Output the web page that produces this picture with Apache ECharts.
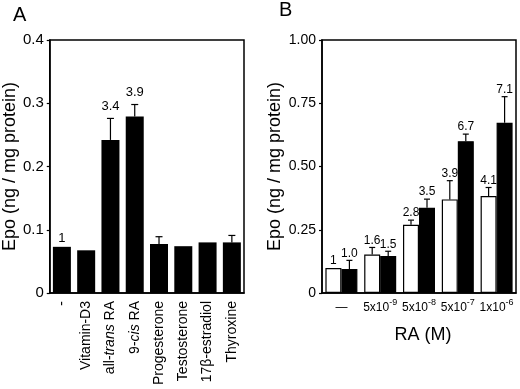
<!DOCTYPE html>
<html><head><meta charset="utf-8">
<script src="https://cdn.jsdelivr.net/npm/echarts@6/dist/echarts.min.js"></script>
<style>html,body{margin:0;padding:0;background:#fff}#c{width:520px;height:389px}</style>
</head><body><div id="c"></div>
<script>
// Panel A data
const catsA = ['-', 'Vitamin-D3', 'all-trans RA', '9-cis RA', 'Progesterone', 'Testosterone', '17β-estradiol', 'Thyroxine'];
const valsA = [0.073, 0.0675, 0.242, 0.279, 0.0775, 0.074, 0.080, 0.080];
const errA = [null, null, 0.276, 0.298, 0.089, null, null, 0.091];
const foldA = ['1', '', '3.4', '3.9', '', '', '', ''];
const ticksA = [0, 0.1, 0.2, 0.3, 0.4];

// Panel B data
const catsB = ['—', '5x10^-9', '5x10^-8', '5x10^-7', '1x10^-6'];
const openB = [0.099, 0.152, 0.270, 0.370, 0.383];
const openErrB = [null, 0.180, 0.288, 0.444, 0.417];
const openFoldB = ['1', '1.6', '2.8', '3.9', '4.1'];
const filledB = [0.095, 0.146, 0.337, 0.600, 0.673];
const filledErrB = [0.129, 0.165, 0.371, 0.628, 0.776];
const filledFoldB = ['1.0', '1.5', '3.5', '6.7', '7.1'];
const ticksB = [0, 0.25, 0.5, 0.75, 1.0];

const FONT = 'Liberation Sans, Arial, Helvetica, sans-serif';

function errRender(vals, errs, labels, offset, gapErr, gapNo, capW, fontSize) {
  return function (params, api) {
    const i = params.dataIndex;
    const base = api.coord([i, vals[i]]);
    const x = base[0] + offset;
    const children = [];
    let topY = base[1];
    let gap = gapNo;
    if (errs[i] != null) {
      const t = api.coord([i, errs[i]]);
      topY = t[1];
      gap = gapErr;
      children.push({type: 'line', shape: {x1: x, y1: base[1], x2: x, y2: topY}, style: {stroke: '#000', lineWidth: 1.2}});
      children.push({type: 'line', shape: {x1: x - capW / 2, y1: topY, x2: x + capW / 2, y2: topY}, style: {stroke: '#000', lineWidth: 1.2}});
    }
    if (labels[i]) {
      children.push({type: 'text', x: x, y: topY - gap, style: {text: labels[i], fill: '#000', font: fontSize + 'px ' + FONT, textAlign: 'center', textVerticalAlign: 'bottom'}});
    }
    return {type: 'group', children: children};
  };
}

const chart = echarts.init(document.getElementById('c'), null, {renderer: 'canvas'});
const axisLine = {show: true, lineStyle: {color: '#000', width: 1.5}};

chart.setOption({
  animation: false,
  backgroundColor: '#fff',
  textStyle: {fontFamily: FONT, color: '#000'},
  graphic: [
    {type: 'text', left: 13, top: 5, style: {text: 'A', font: '20px ' + FONT, fill: '#000'}},
    {type: 'text', left: 279, top: 0, style: {text: 'B', font: '20px ' + FONT, fill: '#000'}}
  ],
  grid: [
    {left: 48, right: 276, top: 40, bottom: 96, show: true, borderColor: '#000', borderWidth: 1.5, backgroundColor: 'transparent'},
    {left: 322, right: 4, top: 40, bottom: 96, show: true, borderColor: '#000', borderWidth: 1.5, backgroundColor: 'transparent'}
  ],
  xAxis: [
    {
      type: 'category', gridIndex: 0, data: catsA,
      axisLine: axisLine, axisTick: {show: false},
      axisLabel: {
        rotate: 90, margin: 8, color: '#000', fontSize: 14, fontFamily: FONT,
        formatter: function (v) { return v.replace(/(trans|cis)/, '{i|$1}'); },
        rich: {i: {fontStyle: 'italic', fontSize: 14, fontFamily: FONT, color: '#000'}}
      }
    },
    {
      type: 'category', gridIndex: 1, data: catsB,
      axisLine: axisLine, axisTick: {show: false},
      name: 'RA (M)', nameLocation: 'middle', nameGap: 33,
      nameTextStyle: {fontSize: 18, color: '#000', fontFamily: FONT, padding: [0, 0, 0, 8]},
      axisLabel: {
        margin: 5, color: '#000', fontSize: 12, fontFamily: FONT, interval: 0,
        formatter: function (v) {
          const p = v.split('^');
          return p.length > 1 ? '{b|' + p[0] + '}{s|' + p[1] + '}' : '{b|' + p[0] + '}';
        },
        rich: {
          b: {fontSize: 12, fontFamily: FONT, color: '#000', verticalAlign: 'bottom', lineHeight: 16},
          s: {fontSize: 9, fontFamily: FONT, color: '#000', verticalAlign: 'top', lineHeight: 16, padding: [0, 0, 0, 0]}
        }
      }
    }
  ],
  yAxis: [
    {
      type: 'value', gridIndex: 0, min: ticksA[0], max: ticksA[ticksA.length - 1], interval: 0.1,
      axisLine: axisLine, axisTick: {show: true, length: 3, lineStyle: {color: '#000', width: 1.2}},
      splitLine: {show: false},
      axisLabel: {margin: 6, fontSize: 15, color: '#000', fontFamily: FONT, formatter: function (v) { return v === 0 ? '0' : v.toFixed(1); }},
      name: 'Epo (ng / mg protein)', nameLocation: 'middle', nameGap: 28,
      nameTextStyle: {fontSize: 18, color: '#000', fontFamily: FONT}
    },
    {
      type: 'value', gridIndex: 1, min: ticksB[0], max: ticksB[ticksB.length - 1], interval: 0.25,
      axisLine: axisLine, axisTick: {show: true, length: 3, lineStyle: {color: '#000', width: 1.2}},
      splitLine: {show: false},
      axisLabel: {margin: 6, fontSize: 14, color: '#000', fontFamily: FONT, formatter: function (v) { return v === 0 ? '0' : v.toFixed(2); }},
      name: 'Epo (ng / mg protein)', nameLocation: 'middle', nameGap: 38,
      nameTextStyle: {fontSize: 18, color: '#000', fontFamily: FONT}
    }
  ],
  series: [
    {type: 'bar', xAxisIndex: 0, yAxisIndex: 0, data: valsA, barWidth: 18, itemStyle: {color: '#000'}},
    {type: 'custom', xAxisIndex: 0, yAxisIndex: 0, z: 5, data: valsA.map((v, i) => [i, v]),
      renderItem: errRender(valsA, errA, foldA, 0, 6, 2, 7, 13)},
    {type: 'bar', xAxisIndex: 1, yAxisIndex: 1, data: openB, barWidth: 16, barGap: '0%',
      itemStyle: {color: '#fff', borderColor: '#000', borderWidth: 1.2}},
    {type: 'bar', xAxisIndex: 1, yAxisIndex: 1, data: filledB, barWidth: 16, barGap: '0%',
      itemStyle: {color: '#000', borderColor: '#000', borderWidth: 1.2}},
    {type: 'custom', xAxisIndex: 1, yAxisIndex: 1, z: 5, data: openB.map((v, i) => [i, v]),
      renderItem: errRender(openB, openErrB, openFoldB, -8, 1, 1, 6, 12)},
    {type: 'custom', xAxisIndex: 1, yAxisIndex: 1, z: 5, data: filledB.map((v, i) => [i, v]),
      renderItem: errRender(filledB, filledErrB, filledFoldB, 8, 1, 1, 6, 12)}
  ]
});
</script>
</body></html>
